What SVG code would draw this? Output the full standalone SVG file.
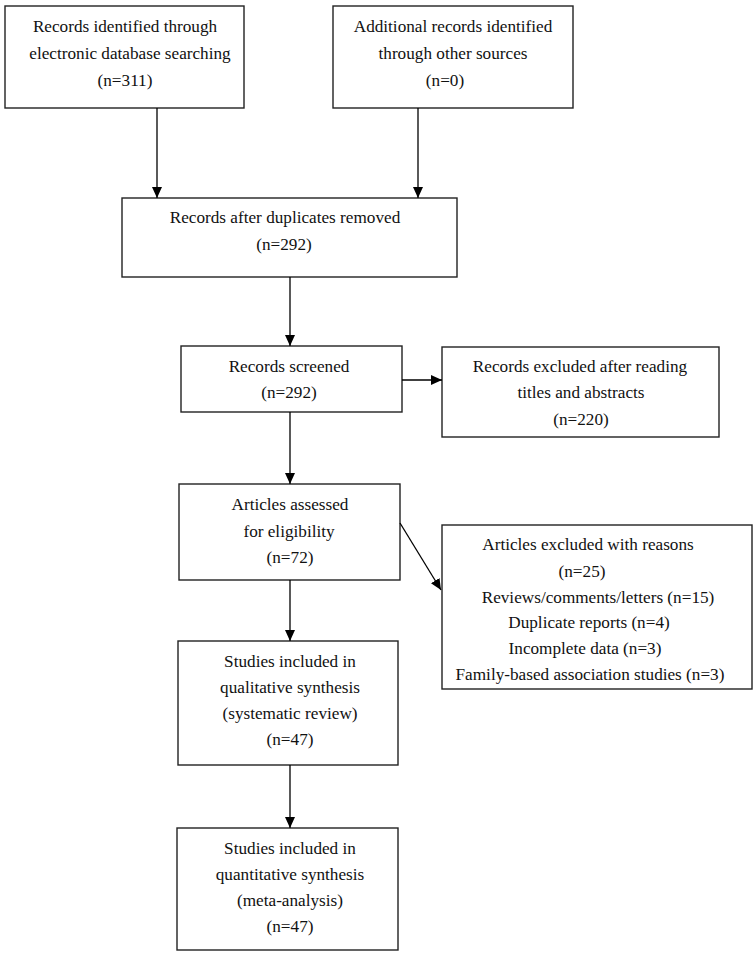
<svg xmlns="http://www.w3.org/2000/svg" width="756" height="956" viewBox="0 0 756 956">
<style>
.box{fill:#fff;stroke:#222;stroke-width:1.4}
text{font-family:"Liberation Serif","Times New Roman",serif;font-size:17.2px;fill:#111;text-anchor:middle}
.c{stroke:#000;stroke-width:1.3;fill:none;marker-end:url(#ah)}
</style>
<defs>
<marker id="ah" markerUnits="userSpaceOnUse" markerWidth="12" markerHeight="10" refX="11" refY="5" orient="auto">
<path d="M0,0 L11,5 L0,10 Z" fill="#000"/>
</marker>
</defs>
<rect width="756" height="956" fill="#fff"/>
<g id="n1"><rect class="box" x="5" y="6" width="239" height="102"/>
<text x="125" y="32">Records identified through</text>
<text x="130" y="59">electronic database searching</text>
<text x="125" y="86">(n=311)</text></g>
<g id="n2"><rect class="box" x="333" y="6" width="240" height="102"/>
<text x="453" y="32">Additional records identified</text>
<text x="453" y="59">through other sources</text>
<text x="445" y="86">(n=0)</text></g>
<g id="n3"><rect class="box" x="122" y="198" width="335" height="79"/>
<text x="285" y="223">Records after duplicates removed</text>
<text x="284" y="250">(n=292)</text></g>
<g id="n4"><rect class="box" x="181" y="346" width="221" height="66"/>
<text x="289" y="372">Records screened</text>
<text x="289" y="398">(n=292)</text></g>
<g id="n5"><rect class="box" x="442" y="347" width="277" height="90"/>
<text x="580" y="372">Records excluded after reading</text>
<text x="581" y="398">titles and abstracts</text>
<text x="581" y="425">(n=220)</text></g>
<g id="n6"><rect class="box" x="179" y="484" width="221" height="96"/>
<text x="290" y="510">Articles assessed</text>
<text x="289" y="537">for eligibility</text>
<text x="290" y="563">(n=72)</text></g>
<g id="n7"><rect class="box" x="178" y="641" width="220" height="124"/>
<text x="290" y="667">Studies included in</text>
<text x="290" y="693">qualitative synthesis</text>
<text x="290" y="719">(systematic review)</text>
<text x="290" y="745">(n=47)</text></g>
<g id="n8"><rect class="box" x="442" y="525" width="310" height="164"/>
<text x="588" y="550">Articles excluded with reasons</text>
<text x="582" y="577">(n=25)</text>
<text x="598" y="603">Reviews/comments/letters (n=15)</text>
<text x="589" y="628">Duplicate reports (n=4)</text>
<text x="585" y="654">Incomplete data (n=3)</text>
<text x="590" y="680">Family-based association studies (n=3)</text></g>
<g id="n9"><rect class="box" x="177" y="828" width="221" height="122"/>
<text x="290" y="854">Studies included in</text>
<text x="290" y="880">quantitative synthesis</text>
<text x="290" y="906">(meta-analysis)</text>
<text x="290" y="932">(n=47)</text></g>
<g id="connectors">
<line class="c" x1="157" y1="108" x2="157" y2="198"/>
<line class="c" x1="418" y1="108" x2="418" y2="198"/>
<line class="c" x1="290" y1="277" x2="290" y2="346"/>
<line class="c" x1="402" y1="380" x2="442" y2="380"/>
<line class="c" x1="290" y1="412" x2="290" y2="484"/>
<line class="c" x1="400" y1="523" x2="441" y2="590"/>
<line class="c" x1="290" y1="580" x2="290" y2="641"/>
<line class="c" x1="290" y1="765" x2="290" y2="828"/>
</g>
</svg>
